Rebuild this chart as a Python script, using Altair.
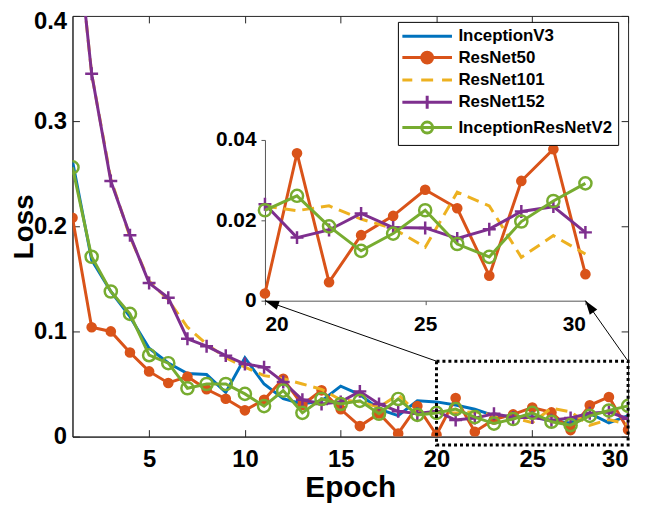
import math
import altair as alt
import pandas as pd

# ---------------- data ----------------
epochs = list(range(1, 31))
inception_v3 = [0.262, 0.168, 0.138, 0.114, 0.084, 0.070, 0.060, 0.059, 0.042, 0.075,
                0.050, 0.036, 0.031, 0.034, 0.048, 0.040, 0.026, 0.020, 0.034, 0.033,
                0.030, 0.026, 0.020, 0.019, 0.019, 0.015, 0.013, 0.022, 0.013, 0.020]
resnet50 = [0.208, 0.104, 0.100, 0.080, 0.062, 0.051, 0.057, 0.045, 0.036, 0.025,
            0.035, 0.055, 0.030, 0.044, 0.026, 0.010, 0.022, 0.003, 0.029, 0.0018,
            0.0367, 0.0046, 0.0163, 0.0211, 0.0276, 0.0230, 0.0062, 0.0298, 0.0377, 0.0066]
resnet101 = [0.52, 0.345, 0.245, 0.190, 0.148, 0.130, 0.104, 0.088, 0.075, 0.066,
             0.058, 0.055, 0.050, 0.045, 0.035, 0.033, 0.028, 0.040, 0.022, 0.0235,
             0.0224, 0.0236, 0.0203, 0.0180, 0.0133, 0.0270, 0.0236, 0.0108, 0.0162, 0.0116]
resnet152 = [0.52, 0.345, 0.243, 0.1915, 0.146, 0.132, 0.093, 0.086, 0.077, 0.069,
             0.066, 0.052, 0.035, 0.031, 0.033, 0.043, 0.031, 0.024, 0.022, 0.0240,
             0.0157, 0.0176, 0.0217, 0.0182, 0.0181, 0.0155, 0.0178, 0.0222, 0.0234, 0.0170]
inception_resnet_v2 = [0.256, 0.171, 0.138, 0.1167, 0.0774, 0.0698, 0.046, 0.050, 0.050, 0.0406,
                       0.029, 0.0437, 0.0226, 0.0358, 0.031, 0.034, 0.0217, 0.0358, 0.0207, 0.0225,
                       0.0261, 0.0185, 0.0124, 0.0167, 0.0225, 0.0141, 0.0109, 0.0197, 0.0248, 0.0292]

models = ["InceptionV3", "ResNet50", "ResNet101", "ResNet152", "InceptionResNetV2"]
colors = ["#0072BD", "#D95319", "#EDB120", "#7E2F8E", "#77AC30"]

main_x_ticks = [5, 10, 15, 20, 25, 30]
main_y_ticks = [0, 0.1, 0.2, 0.3, 0.4]
inset_x_ticks = [20, 25, 30]
inset_y_ticks = [0, 0.02, 0.04]
inset_models = ["ResNet50", "ResNet101", "ResNet152", "InceptionResNetV2"]

zoom_box_x = [20, 30]
zoom_box_y = [-0.008, 0.0717]

# ---------------- layout / style ----------------
W, H = 560, 424
X_DOM = [1, 30]
Y_DOM = [0, 0.4]
INSET_X_RANGE = [194, 517]
INSET_Y_RANGE = [287, 125]
FONT = "Liberation Sans"
AX = "#262626"
LEG_FONT_SIZE = 17

series = dict(zip(models, [inception_v3, resnet50, resnet101, resnet152, inception_resnet_v2]))
df = pd.DataFrame([{"model": m, "epoch": e, "loss": v}
                   for m in models for e, v in zip(epochs, series[m])])
inset_df = df[(df["epoch"] >= 20) & (df["model"].isin(inset_models))]

markers = {
    "ResNet50": dict(shape="circle", filled=True, size=115, strokeWidth=1),
    "ResNet152": dict(shape="M-1,0H1M0,-1V1", filled=False, size=170, strokeWidth=2.5),
    "InceptionResNetV2": dict(shape="circle", filled=False, size=150, strokeWidth=2.5),
}
dashes = {"ResNet101": [12, 7]}


def series_layers(data, names, xenc, yenc, clip):
    layers = []
    for m in names:
        c = colors[models.index(m)]
        kw = {}
        if m in dashes:
            kw["strokeDash"] = dashes[m]
        layers.append(
            alt.Chart(data).transform_filter(alt.datum.model == m)
            .mark_line(color=c, strokeWidth=3, clip=clip, **kw)
            .encode(x=xenc, y=yenc, order="epoch:Q")
        )
        if m in markers:
            layers.append(
                alt.Chart(data).transform_filter(alt.datum.model == m)
                .mark_point(color=c, opacity=1, clip=clip, **markers[m])
                .encode(x=xenc, y=yenc)
            )
    return layers


# ---------------- main panel ----------------
x_main = alt.X("epoch:Q", scale=alt.Scale(domain=X_DOM, nice=False, zero=False),
               axis=alt.Axis(orient="bottom", values=main_x_ticks, ticks=False, grid=False,
                             title="Epoch", labelFontSize=24, titleFontSize=30,
                             labelPadding=11, titlePadding=1, domainColor=AX))
y_main = alt.Y("loss:Q", scale=alt.Scale(domain=Y_DOM, nice=False, zero=False),
               axis=alt.Axis(orient="left", values=main_y_ticks, format="~g", ticks=False,
                             grid=False, title="Loss", labelFontSize=24, titleFontSize=28,
                             labelPadding=6, titleX=-40, titleBaseline="alphabetic",
                             domainColor=AX,
                             labelOffset={"condition": {"test": "datum.value >= 0.39", "value": 6},
                                          "value": 0}))

main_layers = series_layers(df, models, x_main, y_main, True)

box_df = pd.DataFrame({"x": [zoom_box_x[0]], "x2": [zoom_box_x[1]],
                       "y": [zoom_box_y[0]], "y2": [zoom_box_y[1]]})
box = alt.Chart(box_df).mark_rect(fill=None, fillOpacity=0, stroke="black", strokeWidth=3,
                                  strokeDash=[3, 3]).encode(
    x=alt.X("x:Q", scale=alt.Scale(domain=X_DOM, nice=False, zero=False)),
    x2="x2:Q",
    y=alt.Y("y:Q", scale=alt.Scale(domain=Y_DOM, nice=False, zero=False)),
    y2="y2:Q",
)


def px_to_x(px):
    return X_DOM[0] + px / W * (X_DOM[1] - X_DOM[0])


def py_to_y(py):
    return Y_DOM[0] + (H - py) / H * (Y_DOM[1] - Y_DOM[0])


def x_to_px(x):
    return (x - X_DOM[0]) / (X_DOM[1] - X_DOM[0]) * W


def y_to_py(y):
    return H - (y - Y_DOM[0]) / (Y_DOM[1] - Y_DOM[0]) * H


arrow_rows = []
for bx, ipx in [(zoom_box_x[0], INSET_X_RANGE[0]), (zoom_box_x[1], INSET_X_RANGE[1])]:
    sx, sy = x_to_px(bx), y_to_py(zoom_box_y[1])
    ex, ey = ipx, INSET_Y_RANGE[0]
    ang = math.degrees(math.atan2(sy - ey, sx - ex))
    arrow_rows.append({"x": bx, "y": zoom_box_y[1], "x2": px_to_x(ex), "y2": py_to_y(ey),
                       "ang": ang})
arrows_df = pd.DataFrame(arrow_rows)

arrow_lines = alt.Chart(arrows_df).mark_rule(color="black", strokeWidth=1).encode(
    x=alt.X("x:Q", scale=alt.Scale(domain=X_DOM, nice=False, zero=False)),
    y=alt.Y("y:Q", scale=alt.Scale(domain=Y_DOM, nice=False, zero=False)),
    x2="x2:Q", y2="y2:Q",
)
arrow_heads = alt.Chart(arrows_df).mark_point(
    shape="M0,0L2,-0.65L2,0.65Z", filled=True, color="black", size=200, opacity=1
).encode(
    x=alt.X("x2:Q", scale=alt.Scale(domain=X_DOM, nice=False, zero=False)),
    y=alt.Y("y2:Q", scale=alt.Scale(domain=Y_DOM, nice=False, zero=False)),
    angle=alt.Angle("ang:Q", scale=None),
)

# legend (built from scales; no visible marks)
legend_paths = [
    "M-5,0H5",
    "M-5,0H5M-1.1,0A1.1,1.1,0,1,1,1.1,0A1.1,1.1,0,1,1,-1.1,0Z",
    "M-5,0H-3M-1.2,0H1.2M3,0H5",
    "M-5,0H5M-1.3,0H1.3M0,-1.3V1.3",
    "M-5,0H5M-1.1,0A1.1,1.1,0,1,1,1.1,0A1.1,1.1,0,1,1,-1.1,0Z",
]
legend_fills = ["transparent", "#D95319", "transparent", "transparent", "transparent"]
leg = alt.Legend(orient="none", legendX=328, legendY=6, title=None,
                 labelFont=FONT, labelFontWeight="bold", labelFontSize=LEG_FONT_SIZE,
                 labelColor="black", labelLimit=400, symbolSize=100, symbolStrokeWidth=3,
                 symbolOffset=15, labelOffset=23, rowPadding=1.5, padding=6,
                 strokeColor="black", fillColor="white")
legend_layer = alt.Chart(df).transform_filter("false").mark_point(strokeWidth=3, opacity=1).encode(
    color=alt.Color("model:N", scale=alt.Scale(domain=models, range=colors), legend=leg),
    shape=alt.Shape("model:N", scale=alt.Scale(domain=models, range=legend_paths), legend=leg),
    fill=alt.Fill("model:N", scale=alt.Scale(domain=models, range=legend_fills), legend=leg),
)

main = alt.layer(*main_layers, box, arrow_lines, arrow_heads, legend_layer)

# ---------------- inset ----------------
x_in = alt.X("epoch:Q", scale=alt.Scale(domain=[20, 30], range=INSET_X_RANGE, nice=False, zero=False),
             axis=alt.Axis(orient="bottom", offset=INSET_Y_RANGE[0] - H, values=inset_x_ticks,
                           tickSize=4, title=None, labelFontSize=21, labelPadding=9, grid=False,
                           domainColor="#555555", tickColor="#555555"))
y_in = alt.Y("loss:Q", scale=alt.Scale(domain=[0, 0.04], range=INSET_Y_RANGE, nice=False, zero=False),
             axis=alt.Axis(orient="left", offset=-INSET_X_RANGE[0], values=inset_y_ticks, format="~g",
                           tickSize=4, title=None, labelFontSize=21, labelPadding=5, grid=False,
                           domainColor="#555555", tickColor="#555555"))
inset = alt.layer(*series_layers(inset_df, inset_models, x_in, y_in, False))

# ---------------- frame with inward ticks ----------------
fx = alt.Scale(domain=X_DOM, nice=False, zero=False)
fy = alt.Scale(domain=Y_DOM, nice=False, zero=False)
frame_a = alt.Chart(df).transform_filter("false").mark_point().encode(
    x=alt.X("epoch:Q", scale=fx, axis=alt.Axis(orient="top", offset=-H, values=main_x_ticks,
                                               labels=False, tickSize=7, title=None, grid=False,
                                               domainColor=AX, tickColor=AX)),
    y=alt.Y("loss:Q", scale=fy, axis=alt.Axis(orient="right", offset=-W, values=main_y_ticks,
                                              labels=False, tickSize=7, title=None, grid=False,
                                              domainColor=AX, tickColor=AX)),
)
frame_b = alt.Chart(df).transform_filter("false").mark_point().encode(
    x=alt.X("epoch:Q", scale=fx, axis=alt.Axis(orient="bottom", offset=-H, values=main_x_ticks,
                                               labels=False, tickSize=7, title=None, grid=False,
                                               domainColor=AX, tickColor=AX)),
    y=alt.Y("loss:Q", scale=fy, axis=alt.Axis(orient="left", offset=-W, values=main_y_ticks,
                                              labels=False, tickSize=7, title=None, grid=False,
                                              domainColor=AX, tickColor=AX)),
)

chart = alt.layer(main, inset, frame_a, frame_b).resolve_scale(
    x="independent", y="independent"
).properties(
    width=W, height=H,
    autosize=alt.AutoSizeParams(type="none"),
    padding={"left": 65, "top": 6, "right": 10, "bottom": 75},
).configure_view(stroke=None).configure_axis(
    labelFont=FONT, labelFontWeight="bold", titleFont=FONT, titleFontWeight="bold",
    labelColor="black", titleColor="black",
).configure_legend(
    labelFont=FONT, labelFontWeight="bold", labelFontSize=LEG_FONT_SIZE, labelColor="black",
    labelLimit=400, rowPadding=1.5, padding=6, symbolOffset=15, labelOffset=23,
    symbolSize=100, symbolStrokeWidth=3, strokeColor="black", fillColor="white",
)

chart.save("out.html", embed_options={"renderer": "svg", "actions": False})
